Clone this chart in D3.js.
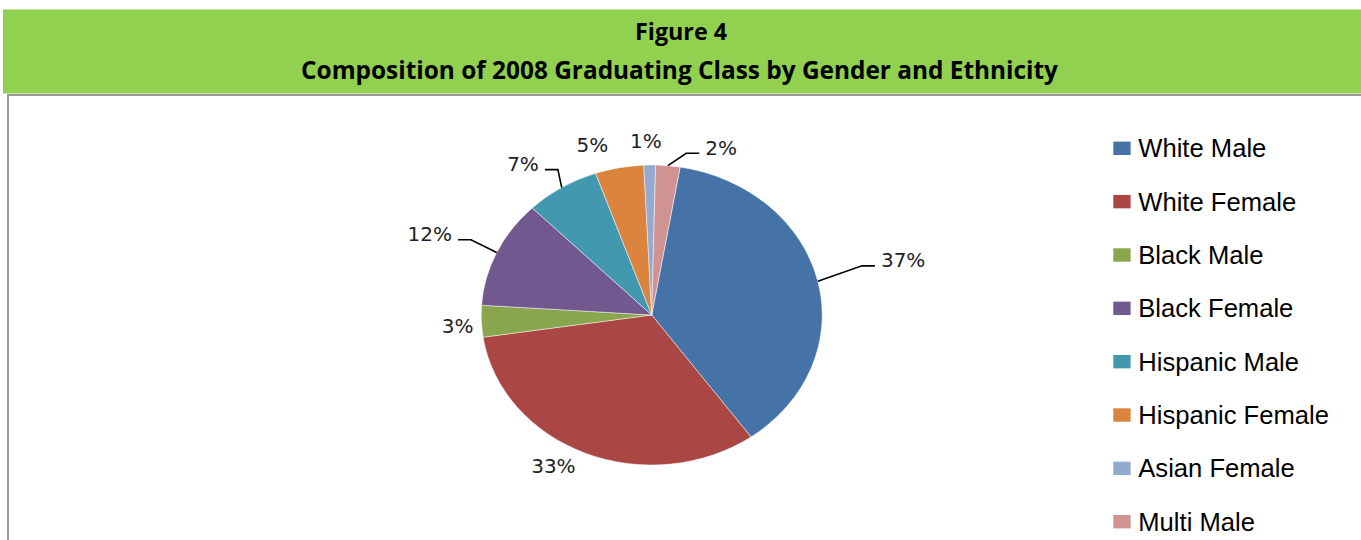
<!DOCTYPE html>
<html>
<head>
<meta charset="utf-8">
<script src="https://cdn.jsdelivr.net/npm/d3@7"></script>
<style>
  html, body { margin: 0; padding: 0; background: #fff; }
  svg { display: block; }
</style>
</head>
<body>
<svg id="chart" width="1361" height="540"></svg>
<script>
// ---- data ----
const titleLines = ["Figure 4", "Composition of 2008 Graduating Class by Gender and Ethnicity"];
const categories = ["White Male", "White Female", "Black Male", "Black Female",
                    "Hispanic Male", "Hispanic Female", "Asian Female", "Multi Male"];
const shares = [37.4, 32.5, 3.4, 11.6, 7.0, 4.6, 1.1, 2.3];
const colors = ["#4572A7", "#AA4643", "#89A54E", "#71588F",
                "#4198AF", "#DB843D", "#93A9CF", "#D19392"];

// ---- layout ----
const W = 1361, H = 540;
const cx = 651.7, cy = 315, R = 150, sx = 170.5 / 150;   // pie is drawn as a horizontally stretched circle
const startDeg = 9.6;
// label placement: polar angle (deg) and radius factor in pie space, leader flag
const labelLayout = {
  "White Male":      { a: 76,    r: 1.52, leader: true },
  "White Female":    { a: 209.8, r: 1.16, leader: false },
  "Black Male":      { a: 266.5, r: 1.14, leader: false },
  "Black Female":    { a: 292.6, r: 1.41, leader: true },
  "Hispanic Male":   { a: 323.2, r: 1.26, leader: true },
  "Hispanic Female": { a: 343,   r: 1.19, leader: false },
  "Asian Female":    { a: 358.3, r: 1.16, leader: false },
  "Multi Male":      { a: 20,    r: 1.19, leader: true }
};

const svg = d3.select("#chart");

// header band
svg.append("rect").attr("x", 3).attr("y", 9.5).attr("width", W - 3).attr("height", 84)
  .attr("fill", "#92D050");
// chart frame
svg.append("path")
  .attr("d", `M8,${H + 2} L8,95 L${W + 2},95`)
  .attr("fill", "none").attr("stroke", "#9a9a9a").attr("stroke-width", 2);

const titleFont = "'Open Sans', 'Liberation Sans', sans-serif";
svg.append("text").attr("x", 681).attr("y", 40)
  .attr("text-anchor", "middle").attr("font-family", titleFont)
  .attr("font-weight", "bold").attr("font-size", 24).attr("fill", "#000")
  .attr("textLength", 92).attr("lengthAdjust", "spacingAndGlyphs")
  .text(titleLines[0]);
svg.append("text").attr("x", 679.5).attr("y", 78.5)
  .attr("text-anchor", "middle").attr("font-family", titleFont)
  .attr("font-weight", "bold").attr("font-size", 25).attr("fill", "#000")
  .attr("textLength", 757).attr("lengthAdjust", "spacingAndGlyphs")
  .text(titleLines[1]);

// pie
const data = categories.map((c, i) => ({ cat: c, value: shares[i], color: colors[i] }));
const start = startDeg * Math.PI / 180;
const pie = d3.pie().value(d => d.value).sort(null)
  .startAngle(start).endAngle(start + 2 * Math.PI);
const arcs = pie(data);
const arc = d3.arc().innerRadius(0).outerRadius(R);

const g = svg.append("g").attr("transform", `translate(${cx},${cy}) scale(${sx},1)`);
g.selectAll("path").data(arcs).enter().append("path")
  .attr("d", arc)
  .attr("fill", d => d.data.color)
  .attr("stroke", "#ffffff").attr("stroke-width", 0.8)
  .attr("stroke-opacity", 0.6)
  .attr("vector-effect", "non-scaling-stroke");

// helpers
function pt(angleRad, r) {
  return [cx + sx * r * Math.sin(angleRad), cy - r * Math.cos(angleRad)];
}
const fmt = v => Math.round(v) + "%";

// labels
const labelG = svg.append("g");
arcs.forEach(d => {
  const L = labelLayout[d.data.cat];
  const c = pt(L.a * Math.PI / 180, L.r * R);
  const t = labelG.append("text")
    .attr("x", c[0]).attr("y", c[1] + 7.3)
    .attr("text-anchor", "middle")
    .attr("font-family", "'DejaVu Sans', Verdana, sans-serif")
    .attr("font-size", 20).attr("fill", "#222")
    .text(fmt(d.data.value));
  if (L.leader) {
    const half = t.node().getComputedTextLength() / 2;
    const mid = (d.startAngle + d.endAngle) / 2;
    const e = pt(mid, R);
    const side = c[0] > cx ? 1 : -1;
    const shelfY = c[1] + 6;
    const endX = c[0] - side * (half + 6);
    const elbowX = endX - side * 13;
    labelG.append("path")
      .attr("d", d3.line()([e, [elbowX, shelfY], [endX, shelfY]]))
      .attr("fill", "none").attr("stroke", "#000").attr("stroke-width", 1.6);
  }
});

// legend
const ly = d3.scalePoint().domain(categories).range([148.3, 521.7]);
const leg = svg.append("g");
categories.forEach((c, i) => {
  const y = ly(c);
  leg.append("rect").attr("x", 1113.3).attr("y", y - 6.7)
    .attr("width", 17.3).attr("height", 13.4).attr("fill", colors[i]);
  leg.append("text").attr("x", 1138.3).attr("y", y + 9)
    .attr("font-family", "'Liberation Sans', Arial, sans-serif")
    .attr("font-size", 25.6).attr("fill", "#000")
    .text(c);
});
</script>
</body>
</html>
